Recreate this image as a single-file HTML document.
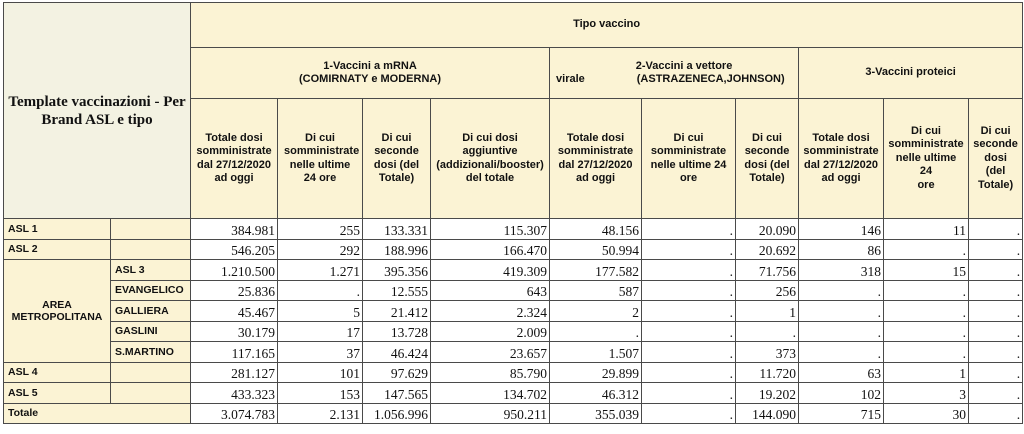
<!DOCTYPE html>
<html><head><meta charset="utf-8"><style>
html,body{margin:0;padding:0;background:#fff;width:1024px;height:434px;overflow:hidden}
table{position:absolute;left:3px;top:2px;border-collapse:collapse;table-layout:fixed;width:1019px}
td{border:1.5px solid #4a4a4a;padding:0;overflow:hidden}
.h{background:#fbf3d4;font:bold 11px/13.5px "Liberation Sans",sans-serif;text-align:center;color:#111;padding:0 3px}
.t{background:#f3f2e2;font:bold 15px/18px "Liberation Serif",serif;text-align:center;color:#111}
.l{background:#fbf3d4;font:bold 10.5px "Liberation Sans",sans-serif;padding-left:4px;color:#111}
.n{font:13.5px "Liberation Serif",serif;text-align:right;padding-right:2px;vertical-align:bottom;color:#111;line-height:16px}
tr.d td{height:19.5px}
</style></head><body>
<table>
<colgroup><col style="width:107px"><col style="width:80px"><col style="width:87px"><col style="width:85px"><col style="width:68px"><col style="width:119px"><col style="width:92px"><col style="width:94px"><col style="width:63px"><col style="width:85px"><col style="width:85px"><col style="width:54px"></colgroup>
<tr style="height:45px"><td class="t" colspan="2" rowspan="3">Template vaccinazioni - Per<br>Brand ASL e tipo</td><td class="h" colspan="10">Tipo vaccino</td></tr>
<tr style="height:51px"><td class="h" colspan="4">1-Vaccini a mRNA<br>(COMIRNATY e MODERNA)</td><td class="h" colspan="3" style="white-space:nowrap"><div style="text-align:center;padding-left:20px">2-Vaccini a vettore</div><div style="text-align:left;padding-left:3px">virale<span style="display:inline-block;width:52px"></span>(ASTRAZENECA,JOHNSON)</div></td><td class="h" colspan="3">3-Vaccini proteici</td></tr>
<tr style="height:120px"><td class="h">Totale dosi somministrate dal 27/12/2020 ad oggi</td><td class="h" style="padding:0 6px">Di cui somministrate nelle ultime 24 ore</td><td class="h">Di cui seconde dosi (del Totale)</td><td class="h">Di cui dosi aggiuntive (addizionali/booster) del totale</td><td class="h">Totale dosi somministrate dal 27/12/2020 ad oggi</td><td class="h">Di cui somministrate nelle ultime 24 ore</td><td class="h">Di cui seconde dosi (del Totale)</td><td class="h">Totale dosi somministrate dal 27/12/2020 ad oggi</td><td class="h">Di cui somministrate nelle ultime<br>24<br>ore</td><td class="h" style="padding:0">Di cui seconde dosi<br>(del Totale)</td></tr>
<tr class="d"><td class="l">ASL 1</td><td class="l"></td><td class="n">384.981</td><td class="n">255</td><td class="n">133.331</td><td class="n">115.307</td><td class="n">48.156</td><td class="n">.</td><td class="n">20.090</td><td class="n">146</td><td class="n">11</td><td class="n">.</td></tr>
<tr class="d"><td class="l">ASL 2</td><td class="l"></td><td class="n">546.205</td><td class="n">292</td><td class="n">188.996</td><td class="n">166.470</td><td class="n">50.994</td><td class="n">.</td><td class="n">20.692</td><td class="n">86</td><td class="n">.</td><td class="n">.</td></tr>
<tr class="d"><td class="l" rowspan="5" style="text-align:center;padding:0">AREA<br>METROPOLITANA</td><td class="l">ASL 3</td><td class="n">1.210.500</td><td class="n">1.271</td><td class="n">395.356</td><td class="n">419.309</td><td class="n">177.582</td><td class="n">.</td><td class="n">71.756</td><td class="n">318</td><td class="n">15</td><td class="n">.</td></tr>
<tr class="d"><td class="l">EVANGELICO</td><td class="n">25.836</td><td class="n">.</td><td class="n">12.555</td><td class="n">643</td><td class="n">587</td><td class="n">.</td><td class="n">256</td><td class="n">.</td><td class="n">.</td><td class="n">.</td></tr>
<tr class="d"><td class="l">GALLIERA</td><td class="n">45.467</td><td class="n">5</td><td class="n">21.412</td><td class="n">2.324</td><td class="n">2</td><td class="n">.</td><td class="n">1</td><td class="n">.</td><td class="n">.</td><td class="n">.</td></tr>
<tr class="d"><td class="l">GASLINI</td><td class="n">30.179</td><td class="n">17</td><td class="n">13.728</td><td class="n">2.009</td><td class="n">.</td><td class="n">.</td><td class="n">.</td><td class="n">.</td><td class="n">.</td><td class="n">.</td></tr>
<tr class="d"><td class="l">S.MARTINO</td><td class="n">117.165</td><td class="n">37</td><td class="n">46.424</td><td class="n">23.657</td><td class="n">1.507</td><td class="n">.</td><td class="n">373</td><td class="n">.</td><td class="n">.</td><td class="n">.</td></tr>
<tr class="d"><td class="l">ASL 4</td><td class="l"></td><td class="n">281.127</td><td class="n">101</td><td class="n">97.629</td><td class="n">85.790</td><td class="n">29.899</td><td class="n">.</td><td class="n">11.720</td><td class="n">63</td><td class="n">1</td><td class="n">.</td></tr>
<tr class="d"><td class="l">ASL 5</td><td class="l"></td><td class="n">433.323</td><td class="n">153</td><td class="n">147.565</td><td class="n">134.702</td><td class="n">46.312</td><td class="n">.</td><td class="n">19.202</td><td class="n">102</td><td class="n">3</td><td class="n">.</td></tr>
<tr class="d"><td class="l" colspan="2">Totale</td><td class="n">3.074.783</td><td class="n">2.131</td><td class="n">1.056.996</td><td class="n">950.211</td><td class="n">355.039</td><td class="n">.</td><td class="n">144.090</td><td class="n">715</td><td class="n">30</td><td class="n">.</td></tr>
</table>
</body></html>
